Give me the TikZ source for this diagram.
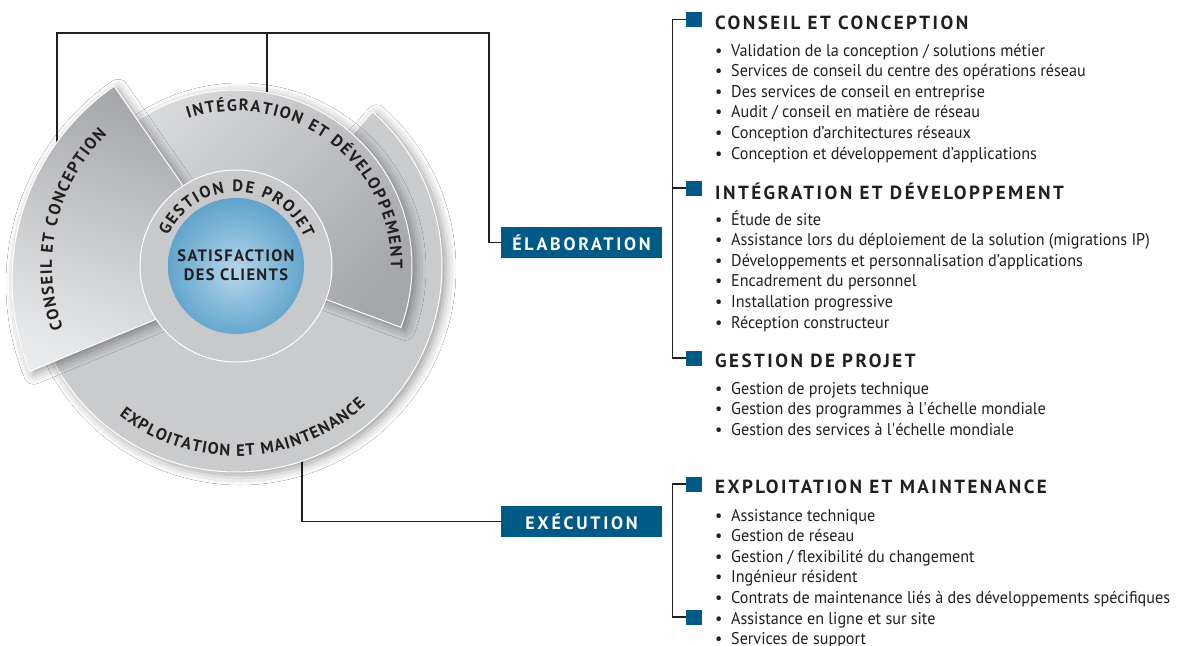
\documentclass[tikz,border=0pt]{standalone}
\usepackage{fontspec}
\setmainfont{PT Sans}
\newfontfamily\bodyf{PT Sans}[FakeStretch=0.95]
\newfontfamily\headf{PT Sans}[LetterSpace=13]
\newfontfamily\boxf{PT Sans}[LetterSpace=15]
\newfontfamily\centf{PT Sans}[LetterSpace=8]
\newfontfamily\curvf{PT Sans}
\usetikzlibrary{decorations.text,shadows.blur}
\definecolor{txt}{HTML}{231F20}
\definecolor{sbblue}{HTML}{005A87}
\definecolor{explc}{HTML}{CACBCD}
\definecolor{ringc}{HTML}{C8C9CB}
\definecolor{intlight}{HTML}{DADBDD}
\definecolor{intdark}{HTML}{A6A7AA}
\definecolor{conslight}{HTML}{E9EAEB}
\definecolor{consdark}{HTML}{A2A3A6}
\definecolor{blueA}{HTML}{B5D6EA}
\definecolor{blueB}{HTML}{80B7D8}
\definecolor{blueC}{HTML}{3B8CBB}
\definecolor{blueD}{HTML}{2477A7}
\pgfdeclareradialshading{sphere}{\pgfpoint{0bp}{-2bp}}{color(0bp)=(blueA); color(16bp)=(blueB); color(38bp)=(blueC); color(52bp)=(blueD); color(60bp)=(blueD)}
\begin{document}
\begin{tikzpicture}[x=1pt,y=1pt,
  conn/.style={draw=txt, line width=1.3pt},
  piece/.style={draw=white, line width=1pt},
  shad/.style={blur shadow={shadow xshift=4pt, shadow yshift=-3pt, shadow blur radius=10pt, shadow opacity=40}},
  lab/.style={fill=sbblue, text=white, font=\boxf\bfseries\fontsize{18}{18}\selectfont, minimum width=161pt, minimum height=31pt, inner sep=0pt},
  sq/.style={fill=sbblue, minimum width=16pt, minimum height=15pt, inner sep=0pt},
  head/.style={anchor=base west, inner sep=0pt, text=txt, font=\headf\bfseries\fontsize{19}{19}\selectfont},
  item/.style={anchor=base west, inner sep=0pt, text=txt, font=\bodyf\fontsize{17}{17}\selectfont},
  ctext/.style={anchor=base, inner sep=0pt, text=txt, font=\centf\bfseries\fontsize{16.5}{16.5}\selectfont}
]
\fill[white] (0,0) rectangle (1180,-645);
\path[use as bounding box] (0,0) rectangle (1180,-645);

\coordinate (C) at (236,-266);
\coordinate (Cc) at (249,-281);

% connectors (behind the wheel)
\coordinate (pCons) at (57,-160);
\coordinate (pInt) at (267,-110);
\coordinate (pExp) at (302,-440);
\coordinate (bar) at (267,-33);
\coordinate (corner) at (489,-33);
\node[lab] (elab) at (581.5,-242.5) {ÉLABORATION};
\node[lab] (exec) at (581.5,-521.5) {EXÉCUTION};
\draw[conn] (pCons) |- (corner) |- (elab.west);
\draw[conn] (pInt) -- (bar);
\draw[conn] (pExp) |- (exec.west);

% wheel
\path[piece, fill=explc, shad] (C) -- ([shift={(48.5:206)}]C) arc[start angle=48.5, end angle=-154, radius=206] -- cycle;
\path[piece, top color=intlight, bottom color=intdark, shading angle=45, shad] (C) -- ([shift={(140:176)}]C) arc[start angle=140, end angle=-20.4, radius=176] -- cycle;
\path[piece, top color=consdark, bottom color=conslight, shading angle=-20, shad] (Cc) -- ([shift={(124.7:237)}]Cc) arc[start angle=124.7, end angle=202.4, radius=237] -- cycle;
\path[draw=white, line width=1pt, fill=ringc] (C) circle[radius=96];
\shade[shading=sphere] (C) circle[radius=68];

% curved labels
\path[decorate, decoration={text along path, text align={fit to path},
  text={|\curvf\bfseries\fontsize{16.5}{16.5}\selectfont\color{txt}|CONSEIL ET CONCEPTION}}]
  ([shift={(200:184)}]C) arc[start angle=200, end angle=134.5, radius=184];
\path[decorate, decoration={text along path, text align={fit to path},
  text={|\curvf\bfseries\fontsize{16.5}{16.5}\selectfont\color{txt}|INTÉGRATION ET DÉVELOPPEMENT}}]
  ([shift={(108:155)}]C) arc[start angle=108, end angle=-1, radius=155];
\path[decorate, decoration={text along path, text align={fit to path},
  text={|\curvf\bfseries\fontsize{16.5}{16.5}\selectfont\color{txt}|GESTION DE PROJET}}]
  ([shift={(156:74)}]C) arc[start angle=156, end angle=22, radius=74];
\path[decorate, decoration={text along path, text align={fit to path},
  text={|\curvf\bfseries\fontsize{16.5}{16.5}\selectfont\color{txt}|EXPLOITATION ET MAINTENANCE}}]
  ([shift={(-128:190)}]C) arc[start angle=-128, end angle=-47, radius=190];

\node[ctext] (sat1) at (236,-261) {SATISFACTION};
\node[ctext] (sat2) at (236,-280) {DES CLIENTS};

% right side
\node[sq] (sq1) at (694,-19.5) {};
\node[sq] (sq2) at (694,-188) {};
\node[sq] (sq3) at (694,-358) {};
\node[sq] (sq4) at (694,-484) {};
\node[sq] (sq5) at (694,-617) {};
\draw[conn] (sq1.west) -- ++(-13,0) |- (sq3.west);
\draw[conn] (sq2.west) -- ++(-13,0);
\draw[conn] (sq4.west) -- ++(-13,0) |- (sq5.west);

\node[head] (h1) at (715,-29) {CONSEIL ET CONCEPTION};
\node[head] (h2) at (715,-199) {INTÉGRATION ET DÉVELOPPEMENT};
\node[head] (h3) at (715,-367) {GESTION DE PROJET};
\node[head] (h4) at (715,-493) {EXPLOITATION ET MAINTENANCE};

\foreach \t [count=\i] in {Validation de la conception / solutions métier,
  Services de conseil du centre des opérations réseau,
  Des services de conseil en entreprise,
  Audit / conseil en matière de réseau,
  Conception d’architectures réseaux,
  Conception et développement d’applications}
  \node[item] (a\i) at (715,{-56-20.6*(\i-1)}) {\makebox[16pt][l]{\textbullet}\t};

\foreach \t [count=\i] in {Étude de site,
  Assistance lors du déploiement de la solution (migrations IP),
  Développements et personnalisation d’applications,
  Encadrement du personnel,
  Installation progressive,
  Réception constructeur}
  \node[item] (b\i) at (715,{-225-20.6*(\i-1)}) {\makebox[16pt][l]{\textbullet}\t};

\foreach \t [count=\i] in {Gestion de projets technique,
  Gestion des programmes à l\textquotesingle échelle mondiale,
  Gestion des services à l\textquotesingle échelle mondiale}
  \node[item] (c\i) at (715,{-394-20.6*(\i-1)}) {\makebox[16pt][l]{\textbullet}\t};

\foreach \t [count=\i] in {Assistance technique,
  Gestion de réseau,
  Gestion / flexibilité du changement,
  Ingénieur résident,
  Contrats de maintenance liés à des développements spécifiques,
  Assistance en ligne et sur site,
  Services de support}
  \node[item] (d\i) at (715,{-521-20.6*(\i-1)}) {\makebox[16pt][l]{\textbullet}\t};
\end{tikzpicture}
\end{document}
